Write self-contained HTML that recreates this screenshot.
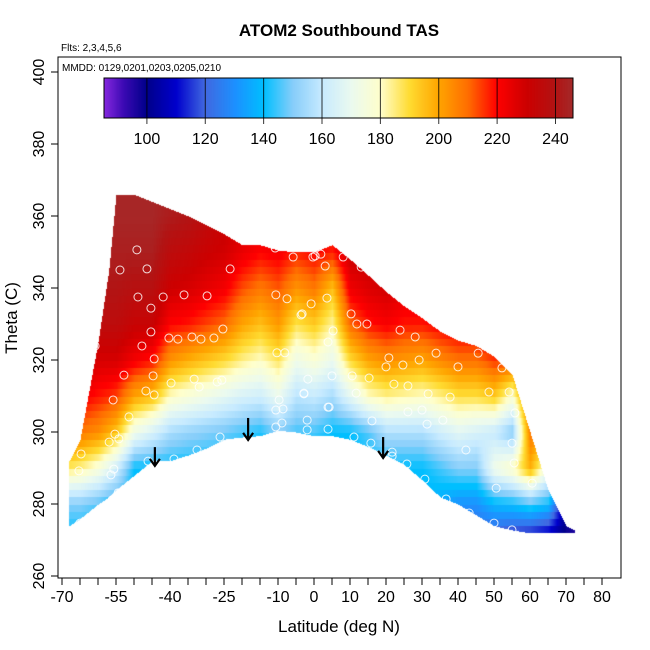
<!DOCTYPE html>
<html><head><meta charset="utf-8">
<style>
body{margin:0;background:#fff;}
#wrap{position:relative;width:650px;height:650px;font-family:"Liberation Sans",sans-serif;}
canvas,svg{position:absolute;left:0;top:0;}
</style></head>
<body>
<div id="wrap">
<canvas id="cv" width="650" height="650"></canvas>
<svg id="sv" width="650" height="650"></svg>
</div>
<script>
// ---- data ----
const colLats = [-68,-65,-60,-57,-55,-50,-45,-40,-35,-30,-25,-20,-15,-10,-5,0,5,10,15,20,25,30,35,40,45,50,55,60,65,70,72];
const colBottom = [274,276,280,282,284,288,292,292,293.6,295.5,298,298.6,299,300.5,300,299,299,298,296,293.6,291,286.7,282,280,277,274,272.8,272,272,272,272];
const colTop = [292,298,325,345,366,366,364,362,360,357.5,355,352,352,350.5,350,350,352,348,343.6,339,335,331.7,328,325.5,324,321,316,300,284,274,273];
const thetaLevels = [270,280,290,300,310,320,330,340,350,360,370];
const tasValues = [
[138,150,186,210,222,232,238,242,244,245,245],
[138,150,184,208,222,232,238,242,244,245,245],
[138,146,176,204,218,228,236,240,243,245,245],
[138,142,168,198,216,228,236,240,243,245,245],
[138,142,162,194,214,228,236,240,243,245,245],
[135,138,140,172,200,222,232,238,243,245,245],
[135,138,140,164,195,218,232,238,243,245,245],
[135,138,140,155,180,203,220,230,236,242,244],
[135,138,140,152,176,198,218,228,234,240,242],
[135,138,140,150,172,194,214,225,231,236,240],
[135,138,140,148,168,190,210,222,229,232,235],
[135,138,140,145,164,184,200,213,224,229,231],
[135,138,140,142,162,180,195,208,220,226,228],
[135,138,140,150,170,187,202,212,222,226,228],
[135,138,140,145,158,172,188,203,217,223,226],
[135,138,140,145,160,177,193,208,220,226,228],
[135,138,140,140,155,170,183,195,217,226,228],
[135,138,140,140,168,190,210,223,231,232,232],
[135,138,140,146,180,200,218,227,232,235,235],
[135,138,140,156,184,204,221,229,232,235,235],
[135,138,140,156,182,202,218,226,230,232,232],
[135,138,140,156,180,200,218,226,230,232,232],
[130,135,145,162,184,205,221,227,230,232,232],
[125,130,150,167,189,209,223,229,230,232,232],
[120,130,150,164,189,209,223,229,230,232,232],
[115,138,172,160,193,215,227,231,232,232,232],
[110,140,180,150,178,213,227,231,232,232,232],
[105,145,198,208,212,218,227,231,232,232,232],
[100,140,172,202,212,218,227,231,232,232,232],
[98,100,110,120,130,140,150,160,170,180,190],
[95,100,110,120,130,140,150,160,170,180,190]
];
const ptLat = [-49.2,-53.9,-46.4,-23.3,-10.8,-5.8,0.3,3.1,-48.9,-41.9,-36.1,-29.7,-10.6,-7.5,-45.3,-0.8,-3.6,-45.3,-25.3,-40.3,-37.8,-33.9,-31.4,-27.8,-60.8,-47.8,-44.4,-10.3,-8.1,-52.8,-44.7,-39.7,-33.3,-31.9,-26.9,-25.6,-1.7,-46.7,-44.4,-55.8,-9.7,-2.8,-51.4,-10.6,-8.6,3.9,-55.3,-54.2,-56.9,-26.1,-10.6,-8.9,-1.9,-1.9,3.9,-32.5,-38.9,-46.1,-64.7,-56.4,-55.6,-65.3,-54.4,-56.1,-65,
-0.3,1.9,8.1,13.1,3.6,-3.3,10.3,11.9,14.7,5.3,3.9,23.9,28.1,33.9,45.6,20.8,20,24.7,29.2,40,52.2,58.1,5,10.6,15.3,-2.8,11.7,22.2,26.1,31.7,37.8,48.6,54.2,4.2,26.1,30,55.8,16.1,31.4,35.8,11.1,15.8,21.7,21.7,55,42.2,55.6,25.8,30.8,50.6,60.6,36.7,43.1,50,55];
const ptTheta = [350.6,345,345.3,345.3,351.1,348.6,348.9,346.1,337.5,337.5,338.1,337.8,338.1,337,334.4,335.6,332.5,327.8,328.6,326.1,325.8,326.4,325.8,326.1,323.9,323.9,320.3,322,322,315.8,315.6,313.6,314.7,312.5,313.9,314.4,314.7,311.4,310.3,308.9,308.9,310.6,304.2,306.1,306.4,306.9,299.4,298.1,297.2,298.6,301.4,302.5,303.3,300.6,300.8,295,292.5,291.9,293.9,288.1,289.7,289.2,283.1,281.1,274.7,
348.6,349.4,348.6,345.8,337.2,332.8,332.8,330,330,328.1,325,328.3,326.4,321.9,321.9,320.6,318.1,318.6,320,318.1,317.8,313.9,315.6,315.6,315,310.8,310.8,313.3,312.8,310.6,309.7,311.1,311.1,306.9,305.6,306.1,305.3,303.1,302.2,303.3,298.6,296.9,294.4,293.3,296.9,295,291.4,291.1,286.9,284.4,285.8,281.4,277.5,274.7,272.8];
const arrowLat = [-44.2,-18.3,19.2];
const arrowTop = [295.8,303.9,298.6];
const arrowTip = [290.6,297.8,292.8];
const xTicks = [-70,-65,-60,-55,-50,-45,-40,-35,-30,-25,-20,-15,-10,-5,0,5,10,15,20,25,30,35,40,45,50,55,60,65,70,75,80];
const xLabels = [-70,-55,-40,-25,-10,0,10,20,30,40,50,60,70,80];
const yTicks = [260,280,300,320,340,360,380,400];
const cbTicks = [100,120,140,160,180,200,220,240];
// ---- scales ----
const X = lat => 314 + lat*3.6;
const Y = th => 576 - (th-260)*3.6;
const L = {l:58,r:621,t:57,b:578};
const cb = {x0:104,x1:573,y0:78,y1:118,vmin:85.3,vmax:246};
const cbX = v => cb.x0 + (v-cb.vmin)/(cb.vmax-cb.vmin)*(cb.x1-cb.x0);
const stops=[[85,138,43,226],[92,60,10,180],[100,0,0,139],[110,0,0,205],[120,65,105,225],[130,30,144,255],[140,0,191,255],[150,135,206,250],[160,200,235,255],[170,235,250,240],[180,255,255,204],[190,255,220,50],[200,255,165,0],[210,255,110,0],[220,255,0,0],[230,205,0,0],[240,178,20,20],[246,165,42,42]];
function cmap(v){
  if(v<=stops[0][0]) return stops[0].slice(1);
  for(let i=1;i<stops.length;i++){ if(v<=stops[i][0]){const a=stops[i-1],b=stops[i],t=(v-a[0])/(b[0]-a[0]);return [a[1]+t*(b[1]-a[1]),a[2]+t*(b[2]-a[2]),a[3]+t*(b[3]-a[3])];}}
  return stops[stops.length-1].slice(1);
}
function colVal(c,th){
  const v=tasValues[c];
  if(th<=thetaLevels[0]) return v[0];
  for(let i=1;i<thetaLevels.length;i++){ if(th<=thetaLevels[i]){const t=(th-thetaLevels[i-1])/10;return v[i-1]+t*(v[i]-v[i-1]);}}
  return v[v.length-1];
}
// ---- heatmap ----
const cv=document.getElementById('cv'),ctx=cv.getContext('2d');
ctx.fillStyle='#fff';ctx.fillRect(0,0,650,650);
const img=ctx.getImageData(0,0,650,650);
for(let px=Math.floor(X(colLats[0]));px<=Math.ceil(X(colLats[colLats.length-1]));px++){
  const lat=(px-314)/3.6;
  let c=0;while(c<colLats.length-2&&lat>colLats[c+1])c++;
  let t=(lat-colLats[c])/(colLats[c+1]-colLats[c]); t=Math.max(0,Math.min(1,t));
  const bot=colBottom[c]+t*(colBottom[c+1]-colBottom[c]);
  const top=colTop[c]+t*(colTop[c+1]-colTop[c]);
  for(let py=Math.floor(Y(top));py<=Math.ceil(Y(bot));py++){
    const th=260+(576-py)/3.6;
    if(th<bot||th>top) continue;
    const tq=Math.floor(th/2)*2+1;
    const v=colVal(c,tq)*(1-t)+colVal(c+1,tq)*t;
    const col=cmap(v);const k=(py*650+px)*4;
    img.data[k]=col[0];img.data[k+1]=col[1];img.data[k+2]=col[2];img.data[k+3]=255;
  }
}
ctx.putImageData(img,0,0);
// colorbar
for(let px=cb.x0;px<cb.x1;px++){
  const v=cb.vmin+(px+0.5-cb.x0)/(cb.x1-cb.x0)*(cb.vmax-cb.vmin);
  const col=cmap(v);ctx.fillStyle=`rgb(${col[0]|0},${col[1]|0},${col[2]|0})`;ctx.fillRect(px,cb.y0,1,cb.y1-cb.y0);
}
// ---- svg overlay ----
const NS='http://www.w3.org/2000/svg',sv=document.getElementById('sv');
function mk(tag,attrs,parent){const e=document.createElementNS(NS,tag);for(const k in attrs)e.setAttribute(k,attrs[k]);(parent||sv).appendChild(e);return e;}
const box=mk('rect',{x:L.l,y:L.t,width:L.r-L.l,height:L.b-L.t,fill:'none',stroke:'#000','stroke-width':1});


const cbr=mk('rect',{x:cb.x0,y:cb.y0,width:cb.x1-cb.x0,height:cb.y1-cb.y0,fill:'none',stroke:'#000','stroke-width':1});


cbTicks.forEach(v=>{
  const ln=mk('line',{x1:cbX(v),x2:cbX(v),y1:cb.y0,y2:cb.y1+6,stroke:'#000','stroke-width':1,opacity:0.8});
  
  
  const tx=mk('text',{x:cbX(v),y:144,'text-anchor':'middle','font-size':16,fill:'#000'});tx.textContent=v;
  
  
});
ptLat.forEach((la,i)=>{
  const c=mk('circle',{cx:X(la),cy:Y(ptTheta[i]),r:4,fill:'none',stroke:'#fff','stroke-width':1,opacity:0.85});
  
  
});
arrowLat.forEach((la,i)=>{
  const g=mk('g',{});
  
  
  const x=X(la),y0=Y(arrowTop[i]),y1=Y(arrowTip[i]);
  mk('line',{x1:x,x2:x,y1:y0,y2:y1,stroke:'#000','stroke-width':2.2},g);
  mk('polyline',{points:`${x-5},${y1-7} ${x},${y1} ${x+5},${y1-7}`,fill:'none',stroke:'#000','stroke-width':2.2},g);
});
xTicks.forEach(v=>{
  const ln=mk('line',{x1:X(v),x2:X(v),y1:L.b,y2:L.b+7,stroke:'#000'});
  
  
});
xLabels.forEach(v=>{
  const t=mk('text',{x:X(v),y:602,'text-anchor':'middle','font-size':16,fill:'#000'});t.textContent=v;
  
  
});
yTicks.forEach(v=>{
  const ln=mk('line',{x1:L.l-7,x2:L.l,y1:Y(v),y2:Y(v),stroke:'#000'});
  
  
  const t=mk('text',{x:44,y:Y(v),'text-anchor':'middle','font-size':16,fill:'#000',transform:`rotate(-90 44 ${Y(v)})`});t.textContent=v;
  
  
});
function label(txt,attrs,name){const t=mk('text',attrs);t.textContent=txt;}
label('ATOM2 Southbound TAS',{x:339,y:36,'text-anchor':'middle','font-size':17,'font-weight':'bold',fill:'#000'},'chart-title');
label('Flts: 2,3,4,5,6',{x:61,y:51,'font-size':10,fill:'#000'},'flights-note');
label('MMDD: 0129,0201,0203,0205,0210',{x:62,y:71,'font-size':10,fill:'#000'},'dates-note');
label('Latitude (deg N)',{x:339,y:632,'text-anchor':'middle','font-size':17,fill:'#000'},'x-axis-title');
label('Theta (C)',{x:17,y:318,'text-anchor':'middle','font-size':17,fill:'#000',transform:'rotate(-90 17 318)'},'y-axis-title');
</script>
</body></html>
